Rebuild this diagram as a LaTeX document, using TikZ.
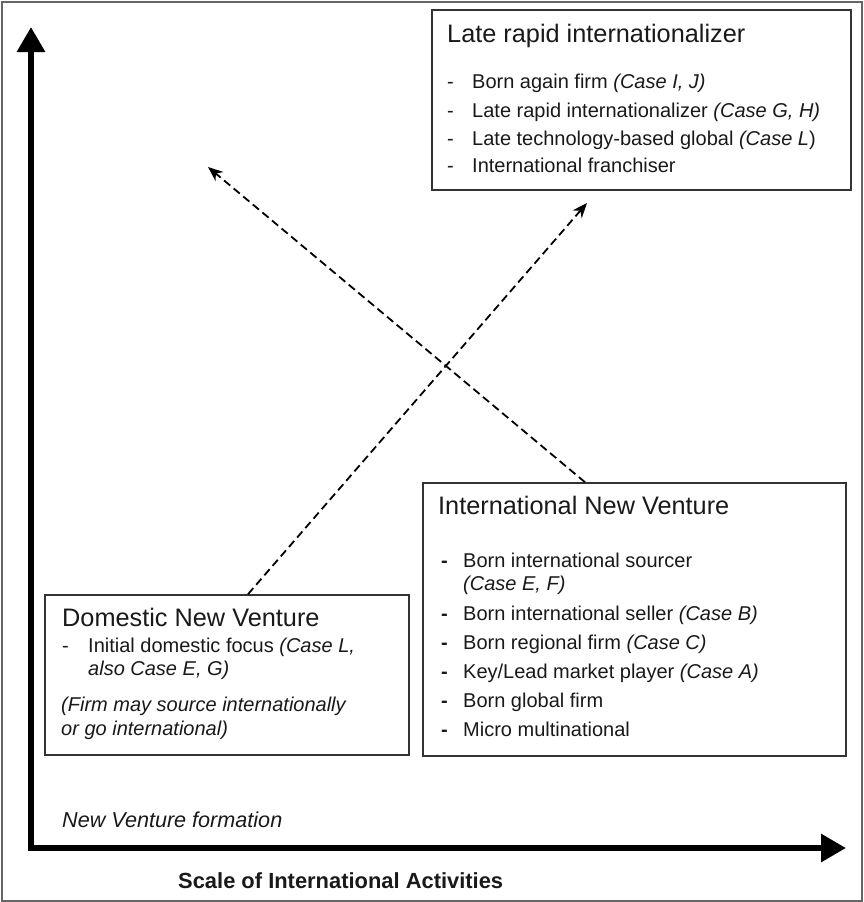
\documentclass[tikz,border=0pt]{standalone}
\usepackage{fontspec}
\setmainfont{Liberation Sans}
\usetikzlibrary{arrows.meta}
\begin{document}
\begin{tikzpicture}[x=1pt,y=-1pt,
  box/.style={draw=black!80,line width=1.6pt,rectangle,inner sep=0pt},
  ttl/.style={anchor=base west,inner sep=0pt,font=\fontsize{25.3}{30}\selectfont,text=black!90},
  itm/.style={anchor=base west,inner sep=0pt,font=\fontsize{20}{24}\selectfont,text=black!90},
  axis/.style={line width=6pt,{Triangle[length=25pt,width=27pt]}-{Triangle[length=25pt,width=27pt]}},
  dasharrow/.style={line width=1.8pt,dash pattern=on 8pt off 4.5pt,-{Stealth[length=15pt,width=12pt]}}
]
\useasboundingbox (0,0) rectangle (863,902);
\draw[black!60,line width=2pt] (1.5,1.5) rectangle (861.5,900.5);

% axes
\coordinate (ytip) at (31,27);
\coordinate (origin) at (31,848);
\coordinate (xtip) at (846,848);
\draw[axis] (ytip) -- (origin) -- (xtip);
\node[anchor=base west,inner sep=0pt,font=\fontsize{21.6}{26}\selectfont\itshape,text=black!90] (nvf) at (62,827) {New Venture formation};
\node[anchor=base west,inner sep=0pt,font=\fontsize{21.9}{26}\selectfont\bfseries,text=black!90] (scale) at (178,888) {Scale of International Activities};

% Late rapid internationalizer box
\node[box,minimum width=419pt,minimum height=180pt] (lri) at (641.5,100) {};
\node[ttl] (lrit) at (447,42) {Late rapid internationalizer};
\node[itm] (lrid1) at (447,88) {-};
\node[itm] (lri1) at (472,88) {Born again firm \textit{(Case I, J)}};
\node[itm] (lrid2) at (447,117) {-};
\node[itm] (lri2) at (472,117) {Late rapid internationalizer \textit{(Case G, H)}};
\node[itm] (lrid3) at (447,145) {-};
\node[itm] (lri3) at (472,145) {Late technology-based global \textit{(Case L})};
\node[itm] (lrid4) at (447,172) {-};
\node[itm] (lri4) at (472,172) {International franchiser};

% International New Venture box
\node[box,minimum width=423pt,minimum height=273pt] (inv) at (634.5,619.5) {};
\node[ttl] (invt) at (438,514) {International New Venture};
\node[itm] (invd1) at (441,567) {\textbf{-}};
\node[itm] (inv1) at (463,567) {Born international sourcer};
\node[itm] (inv1b) at (463,590) {\textit{(Case E, F)}};
\node[itm] (invd2) at (441,620) {\textbf{-}};
\node[itm] (inv2) at (463,620) {Born international seller \textit{(Case B)}};
\node[itm] (invd3) at (441,649) {\textbf{-}};
\node[itm] (inv3) at (463,649) {Born regional firm \textit{(Case C)}};
\node[itm] (invd4) at (441,678) {\textbf{-}};
\node[itm] (inv4) at (463,678) {Key/Lead market player \textit{(Case A)}};
\node[itm] (invd5) at (441,707) {\textbf{-}};
\node[itm] (inv5) at (463,707) {Born global firm};
\node[itm] (invd6) at (441,736) {\textbf{-}};
\node[itm] (inv6) at (463,736) {Micro multinational};

% Domestic New Venture box
\node[box,minimum width=364pt,minimum height=160pt] (dnv) at (227,675) {};
\node[ttl] (dnvt) at (62,626) {Domestic New Venture};
\node[itm] (dnvd1) at (62,652) {-};
\node[itm] (dnv1) at (88,652) {Initial domestic focus \textit{(Case L,}};
\node[itm] (dnv1b) at (88,675) {\textit{also Case E, G)}};
\node[itm] (dnv2) at (61,711) {\textit{(Firm may source internationally}};
\node[itm] (dnv2b) at (61,735) {\textit{or go international)}};

% dashed transitions
\coordinate (nwend) at (208,167);
\coordinate (neend) at (587,203);
\draw[dasharrow] ([xshift=-49.5pt]inv.north) -- (nwend);
\draw[dasharrow] ([xshift=21pt]dnv.north) -- (neend);
\end{tikzpicture}
\end{document}
